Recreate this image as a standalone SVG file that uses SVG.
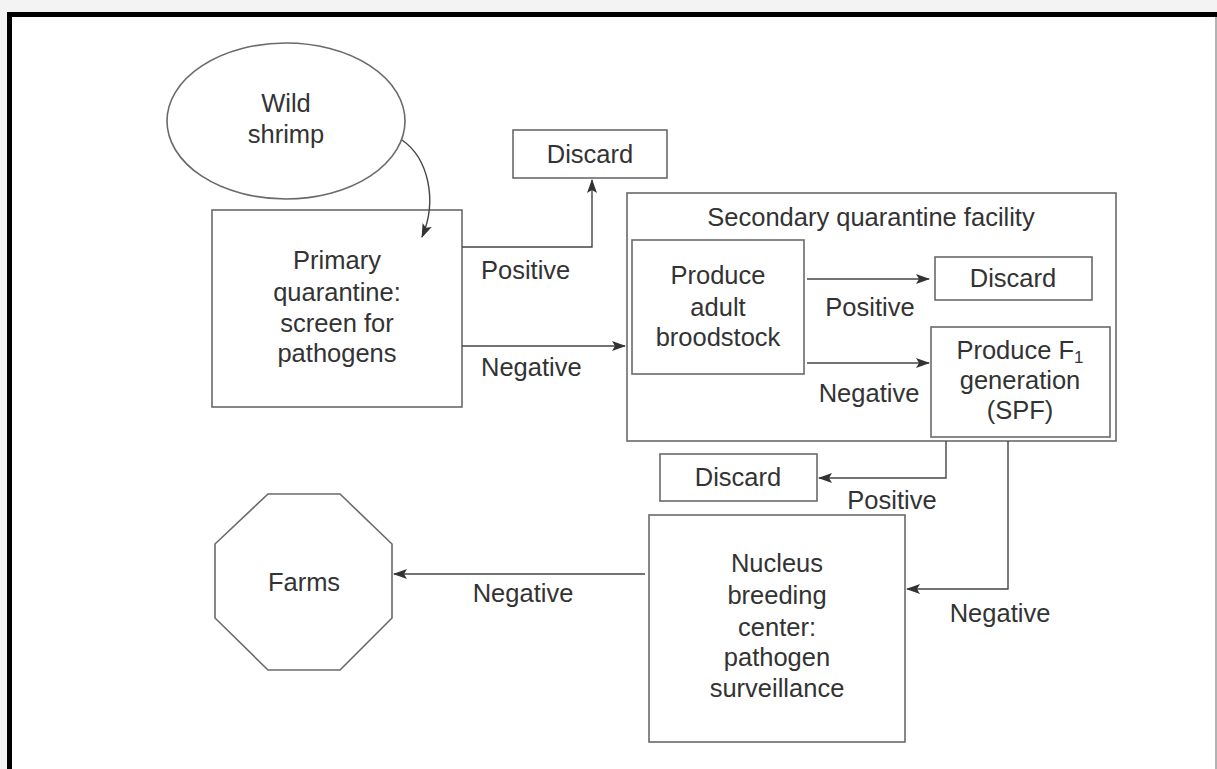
<svg xmlns="http://www.w3.org/2000/svg" width="1217" height="769" viewBox="0 0 1217 769">
<style>
  .box { fill: #fff; stroke: #6a6a6a; stroke-width: 1.6; }
  .conn { fill: none; stroke: #444; stroke-width: 1.4; }
  text { font-family: "Liberation Sans", Arial, Helvetica, sans-serif; font-size: 25.5px; fill: #333; }
  .c { text-anchor: middle; }
</style>
<defs>
  <marker id="arr" markerUnits="userSpaceOnUse" markerWidth="14" markerHeight="10" viewBox="0 0 14 10" refX="13" refY="5" orient="auto">
    <path d="M0,0 L14,5 L0,10 L3,5 Z" fill="#333"/>
  </marker>
</defs>
<rect x="0" y="0" width="1217" height="769" fill="#f3f3f3"/>
<rect x="7" y="12" width="1210" height="757" fill="#fff"/>
<rect x="7" y="12" width="1210" height="5" fill="#000"/>
<rect x="7" y="12" width="5" height="757" fill="#000"/>
<line x1="1216" y1="17" x2="1216" y2="769" stroke="#999" stroke-width="1.5"/>

<g id="wild-shrimp">
  <ellipse cx="286" cy="121" rx="119" ry="78" class="box"/>
  <text x="286" y="112" class="c">Wild</text>
  <text x="286" y="143" class="c">shrimp</text>
</g>
<g id="primary-quarantine">
  <rect x="212" y="210" width="250" height="197" class="box"/>
  <text x="337" y="269" class="c">Primary</text>
  <text x="337" y="301" class="c">quarantine:</text>
  <text x="337" y="332" class="c">screen for</text>
  <text x="337" y="362" class="c">pathogens</text>
</g>
<g id="discard-1">
  <rect x="513" y="130" width="154" height="48" class="box"/>
  <text x="590" y="163" class="c">Discard</text>
</g>
<g id="secondary-facility">
  <rect x="627" y="193" width="489" height="248" class="box"/>
  <text x="871" y="226" class="c">Secondary quarantine facility</text>
</g>
<g id="adult-broodstock">
  <rect x="632" y="240" width="172" height="134" class="box"/>
  <text x="718" y="284" class="c">Produce</text>
  <text x="718" y="316" class="c">adult</text>
  <text x="718" y="346" class="c">broodstock</text>
</g>
<g id="discard-2">
  <rect x="935" y="257" width="157" height="43" class="box"/>
  <text x="1013" y="287" class="c">Discard</text>
</g>
<g id="f1-generation">
  <rect x="931" y="327" width="179" height="110" class="box"/>
  <text x="1020" y="359" class="c">Produce F<tspan font-size="17" dy="4">1</tspan></text>
  <text x="1020" y="389" class="c">generation</text>
  <text x="1020" y="419" class="c">(SPF)</text>
</g>
<g id="discard-3">
  <rect x="660" y="454" width="157" height="47" class="box"/>
  <text x="738" y="486" class="c">Discard</text>
</g>
<g id="nucleus">
  <rect x="649" y="515" width="256" height="227" class="box"/>
  <text x="777" y="572" class="c">Nucleus</text>
  <text x="777" y="604" class="c">breeding</text>
  <text x="777" y="636" class="c">center:</text>
  <text x="777" y="666" class="c">pathogen</text>
  <text x="777" y="697" class="c">surveillance</text>
</g>
<g id="farms">
  <polygon points="268,494 340,494 392,544 392,618 340,670 268,670 215,618 215,544" class="box"/>
  <text x="304" y="591" class="c">Farms</text>
</g>

<g id="connectors">
  <path d="M402,140 C428,158 438,200 422,237" class="conn" marker-end="url(#arr)"/>
  <path d="M462,247 L592,247 L592,180" class="conn" marker-end="url(#arr)"/>
  <path d="M462,346 L625,346" class="conn" marker-end="url(#arr)"/>
  <path d="M807,279 L929,279" class="conn" marker-end="url(#arr)"/>
  <path d="M807,363 L929,363" class="conn" marker-end="url(#arr)"/>
  <path d="M946,441 L946,478 L819,478" class="conn" marker-end="url(#arr)"/>
  <path d="M1008,441 L1008,589 L907,589" class="conn" marker-end="url(#arr)"/>
  <path d="M645,574 L394,574" class="conn" marker-end="url(#arr)"/>
  <text x="481" y="279">Positive</text>
  <text x="481" y="376">Negative</text>
  <text x="870" y="316" class="c">Positive</text>
  <text x="869" y="402" class="c">Negative</text>
  <text x="892" y="509" class="c">Positive</text>
  <text x="1000" y="622" class="c">Negative</text>
  <text x="523" y="602" class="c">Negative</text>
</g>
</svg>
